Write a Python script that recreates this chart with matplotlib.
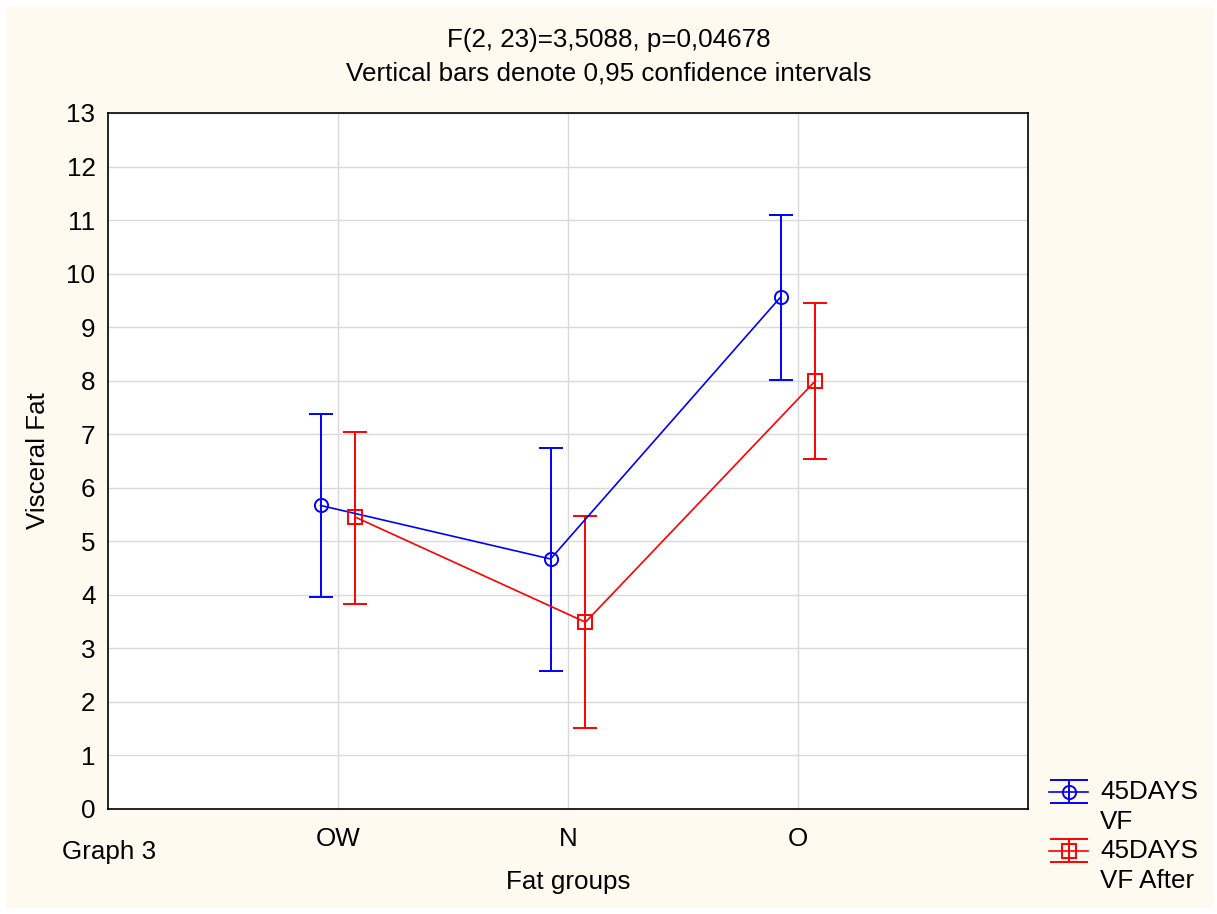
import matplotlib
matplotlib.use('Agg')
import matplotlib.pyplot as plt
from matplotlib.patches import Rectangle
from matplotlib.lines import Line2D
from matplotlib.legend_handler import HandlerErrorbar
import numpy as np

plt.rcParams['font.family'] = ['Liberation Sans', 'DejaVu Sans']

# Dados (médias e IC 95%)
groups = ['OW', 'N', 'O']
vf_mean = [5.67, 4.67, 9.56]
vf_low = [3.96, 2.58, 8.01]
vf_high = [7.37, 6.75, 11.09]
vf_after_mean = [5.45, 3.49, 8.00]
vf_after_low = [3.83, 1.52, 6.54]
vf_after_high = [7.05, 5.48, 9.46]

FS = 18.7


# Legenda no estilo do Statistica: traço alinhado à primeira linha do texto,
# capas com a largura total do símbolo
class HandlerFirstLine(HandlerErrorbar):
    def __init__(self, shift=0, **kw):
        super().__init__(**kw)
        self.shift = shift

    def create_artists(self, legend, orig_handle, xdescent, ydescent, width,
                       height, fontsize, trans):
        arts = super().create_artists(legend, orig_handle, xdescent,
                                      ydescent - 2 * self.shift, width, height,
                                      fontsize, trans)
        for a in arts:
            if isinstance(a, Line2D) and a.get_marker() == '_':
                a.set_markersize(width)
        return arts


W, H = 1217, 914
fig = plt.figure(figsize=(W / 100, H / 100), dpi=100)
fig.patch.set_facecolor('white')
fig.patches.append(Rectangle((6 / W, 1 - 908 / H), (1213 - 6) / W, (908 - 7) / H,
                             transform=fig.transFigure, facecolor='#fffaf0',
                             edgecolor='none', zorder=-10))

ax = fig.add_axes([108 / W, 1 - 809 / H, (1028 - 108) / W, (809 - 113) / H])
ax.set_facecolor('white')

x = np.arange(1, len(groups) + 1)
off = 0.076

m1 = np.array(vf_mean)
m2 = np.array(vf_after_mean)
err1 = [m1 - np.array(vf_low), np.array(vf_high) - m1]
err2 = [m2 - np.array(vf_after_low), np.array(vf_after_high) - m2]

eb1 = ax.errorbar(x - off, m1, yerr=err1, color='#0000ff', marker='o', markersize=9.5,
                  markerfacecolor='none', markeredgewidth=1.4, linewidth=1.2,
                  elinewidth=1.4, capsize=8.3, capthick=1.4, label='45DAYS\nVF', zorder=3)
eb2 = ax.errorbar(x + off, m2, yerr=err2, color='#ff0000', marker='s', markersize=9.5,
                  markerfacecolor='none', markeredgewidth=1.4, linewidth=1.2,
                  elinewidth=1.4, capsize=8.3, capthick=1.4, label='45DAYS\nVF After', zorder=3)

ax.set_xlim(0, 4)
ax.set_ylim(0, 13)
ax.set_yticks(range(0, 14))
ax.set_xticks(x)
ax.set_xticklabels(groups)
ax.tick_params(length=0, labelsize=FS)
ax.tick_params(axis='x', pad=13)
ax.tick_params(axis='y', pad=9)
ax.grid(True, color='#d9d9d9', linewidth=1)
ax.set_axisbelow(True)
for s in ax.spines.values():
    s.set_linewidth(1.2)
    s.set_color('black')

ax.set_ylabel('Visceral Fat', fontsize=FS, labelpad=12)
ax.set_xlabel('Fat groups', fontsize=FS, labelpad=14)

fig.text(0.5, 1 - 40 / H, 'F(2, 23)=3,5088, p=0,04678', ha='center', va='center', fontsize=FS)
fig.text(0.5, 1 - 73 / H, 'Vertical bars denote 0,95 confidence intervals', ha='center', va='center', fontsize=FS)
fig.text(62 / W, 1 - 852 / H, 'Graph 3', ha='left', va='center', fontsize=FS)

hm = HandlerFirstLine(shift=11.5, xerr_size=0.45)
leg = fig.legend(handles=[eb1, eb2], loc='upper left', bbox_to_anchor=(1039 / W, 1 - 770 / H),
                 frameon=False, fontsize=FS, handlelength=1.5, handletextpad=0.45,
                 labelspacing=0.2, borderaxespad=0,
                 handler_map={type(eb1): hm})
for t in leg.get_texts():
    t.set_linespacing(1.3)

fig.savefig('out.png', dpi=100, facecolor=fig.get_facecolor())
